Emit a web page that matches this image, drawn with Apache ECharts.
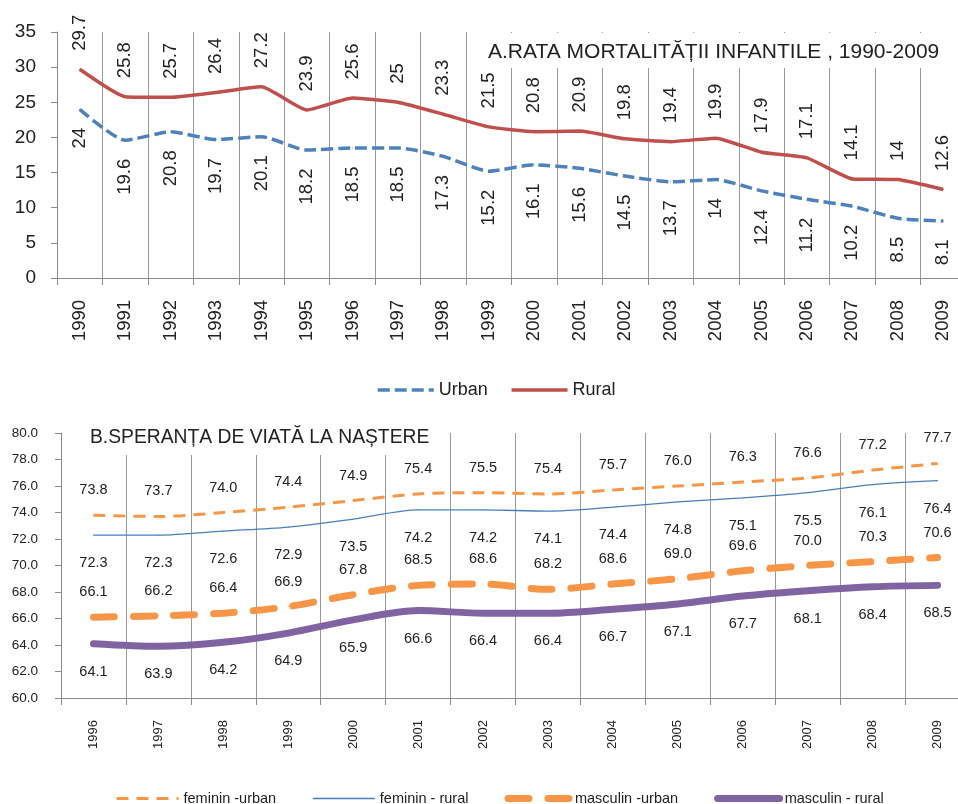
<!DOCTYPE html>
<html>
<head>
<meta charset="utf-8" />
<title>Mortalitate infantila si speranta de viata</title>
<style>
  html, body { margin: 0; padding: 0; background: #fff; }
  #chartBox { width: 958px; height: 804px; }
</style>
</head>
<body>
<div id="chartBox"></div>
<script src="https://cdn.jsdelivr.net/npm/echarts@6/dist/echarts.min.js"></script>
<script>
// A. rata mortalitatii infantile
var years1 = ['1990','1991','1992','1993','1994','1995','1996','1997','1998','1999',
              '2000','2001','2002','2003','2004','2005','2006','2007','2008','2009'];
var urbanMort = [24, 19.6, 20.8, 19.7, 20.1, 18.2, 18.5, 18.5, 17.3, 15.2,
                 16.1, 15.6, 14.5, 13.7, 14, 12.4, 11.2, 10.2, 8.5, 8.1];
var ruralMort = [29.7, 25.8, 25.7, 26.4, 27.2, 23.9, 25.6, 25, 23.3, 21.5,
                 20.8, 20.9, 19.8, 19.4, 19.9, 17.9, 17.1, 14.1, 14, 12.6];

// B. speranta de viata la nastere
var years2 = ['1996','1997','1998','1999','2000','2001','2002',
              '2003','2004','2005','2006','2007','2008','2009'];
var femUrban  = [73.8, 73.7, 74.0, 74.4, 74.9, 75.4, 75.5, 75.4, 75.7, 76.0, 76.3, 76.6, 77.2, 77.7];
var femRural  = [72.3, 72.3, 72.6, 72.9, 73.5, 74.2, 74.2, 74.1, 74.4, 74.8, 75.1, 75.5, 76.1, 76.4];
var mascUrban = [66.1, 66.2, 66.4, 66.9, 67.8, 68.5, 68.6, 68.2, 68.6, 69.0, 69.6, 70.0, 70.3, 70.6];
var mascRural = [64.1, 63.9, 64.2, 64.9, 65.9, 66.6, 66.4, 66.4, 66.7, 67.1, 67.7, 68.1, 68.4, 68.5];

var _font = '"Liberation Sans", Arial, sans-serif';
var _txt = '#222';
var _gridLine = '#9a9a9a';

function oneDecimal(p) { return p.value.toFixed(1); }

// eticheta verticala deasupra / dedesubt
function vLabel(above) {
  return {
    show: true,
    position: above ? 'top' : 'bottom',
    distance: 18,
    rotate: 90,
    align: above ? 'left' : 'right',
    verticalAlign: 'middle',
    fontFamily: _font,
    fontSize: 18.5,
    color: _txt
  };
}

function hLabel(above) {
  return {
    show: true,
    position: above ? 'top' : 'bottom',
    distance: above ? 17 : 20,
    fontFamily: _font,
    fontSize: 14.5,
    color: _txt,
    formatter: oneDecimal
  };
}

function catAxis(idx, data, fontSize, margin) {
  return {
    type: 'category',
    gridIndex: idx,
    data: data,
    boundaryGap: true,
    axisLine: { show: true, lineStyle: { color: '#8a8a8a', width: 1 } },
    axisTick: { show: true, length: 7, interval: 0, lineStyle: { color: '#8a8a8a' } },
    splitLine: { show: true, interval: 0, lineStyle: { color: _gridLine, width: 1 } },
    axisLabel: {
      interval: 0, rotate: 90, margin: margin,
      fontFamily: _font, fontSize: fontSize, color: _txt
    }
  };
}

var myChart = echarts.init(document.getElementById('chartBox'));
var option = {
  animation: false,
  backgroundColor: '#fff',
  title: [{
    text: 'A.RATA MORTALITĂȚII INFANTILE , 1990-2009',
    left: 482, top: 33,
    padding: [7, 6, 4, 6],
    backgroundColor: '#fff',
    textStyle: { fontFamily: _font, fontSize: 21, fontWeight: 'normal', color: _txt, lineHeight: 24 }
  }, {
    text: 'B.SPERANȚA DE VIATĂ LA NAȘTERE',
    left: 84, top: 425,
    padding: [2, 6, 6, 6],
    backgroundColor: '#fff',
    textStyle: { fontFamily: _font, fontSize: 19.3, fontWeight: 'normal', color: _txt, lineHeight: 22 }
  }],
  legend: [{
    left: 371, top: 376,
    data: [
      { name: 'Urban', lineStyle: { width: 3.5 } },
      { name: 'Rural', lineStyle: { width: 3.5 } }
    ],
    itemWidth: 56, itemHeight: 16, itemGap: 22,
    itemStyle: { opacity: 0 },
    textStyle: { fontFamily: _font, fontSize: 18, color: _txt }
  }, {
    left: 110, top: 786,
    data: [
      { name: 'feminin -urban', lineStyle: { width: 3 } },
      { name: 'feminin - rural', lineStyle: { width: 1.3 } },
      { name: 'masculin -urban', lineStyle: { width: 7 } },
      { name: 'masculin - rural', lineStyle: { width: 7 } }
    ],
    itemWidth: 62, itemHeight: 16, itemGap: 36,
    itemStyle: { opacity: 0 },
    textStyle: { fontFamily: _font, fontSize: 14.5, color: _txt }
  }],
  grid: [
    { left: 57, top: 32, width: 909, height: 246, containLabel: false, outerBoundsMode: 'none' },
    { left: 61, top: 433, width: 909, height: 265, containLabel: false, outerBoundsMode: 'none' }
  ],
  xAxis: [
    catAxis(0, years1, 18.5, 22),
    catAxis(1, years2, 13, 22)
  ],
  yAxis: [{
    type: 'value', gridIndex: 0,
    min: 0, max: 35, interval: 5,
    axisLine: { show: true, lineStyle: { color: '#8a8a8a' } },
    axisTick: { show: true, length: 6, lineStyle: { color: '#8a8a8a' } },
    splitLine: { show: false },
    axisLabel: { margin: 21, fontFamily: _font, fontSize: 19, color: _txt }
  }, {
    type: 'value', gridIndex: 1,
    min: 60, max: 80, interval: 2,
    axisLine: { show: true, lineStyle: { color: '#8a8a8a' } },
    axisTick: { show: true, length: 6, lineStyle: { color: '#8a8a8a' } },
    splitLine: { show: false },
    axisLabel: {
      margin: 23, fontFamily: _font, fontSize: 13.5, color: _txt,
      formatter: function (v) { return v.toFixed(1); }
    }
  }],
  series: [{
    name: 'Urban', type: 'line', xAxisIndex: 0, yAxisIndex: 0,
    data: urbanMort, smooth: 0.2,
    symbol: 'circle', symbolSize: 1,
    itemStyle: { color: '#4F81BD' },
    lineStyle: { color: '#4F81BD', width: 3.5, type: [12, 5] },
    label: vLabel(false)
  }, {
    name: 'Rural', type: 'line', xAxisIndex: 0, yAxisIndex: 0,
    data: ruralMort, smooth: 0.15,
    symbol: 'circle', symbolSize: 1,
    itemStyle: { color: '#C0504D' },
    lineStyle: { color: '#C0504D', width: 3.5 },
    label: vLabel(true)
  }, {
    name: 'feminin -urban', type: 'line', xAxisIndex: 1, yAxisIndex: 1,
    data: femUrban, smooth: 0.3,
    symbol: 'circle', symbolSize: 1,
    itemStyle: { color: '#F79646' },
    lineStyle: { color: '#F79646', width: 3, type: [12, 8] },
    label: hLabel(true)
  }, {
    name: 'feminin - rural', type: 'line', xAxisIndex: 1, yAxisIndex: 1,
    data: femRural, smooth: 0.3,
    symbol: 'circle', symbolSize: 1,
    itemStyle: { color: '#4A7EBB' },
    lineStyle: { color: '#4A7EBB', width: 1.3 },
    label: hLabel(false)
  }, {
    name: 'masculin -urban', type: 'line', xAxisIndex: 1, yAxisIndex: 1,
    data: mascUrban, smooth: 0.3,
    symbol: 'circle', symbolSize: 1,
    itemStyle: { color: '#F79646' },
    lineStyle: { color: '#F79646', width: 7, type: [21, 19], cap: 'round' },
    label: hLabel(true)
  }, {
    name: 'masculin - rural', type: 'line', xAxisIndex: 1, yAxisIndex: 1,
    data: mascRural, smooth: 0.3,
    symbol: 'circle', symbolSize: 1,
    itemStyle: { color: '#8064A2' },
    lineStyle: { color: '#8064A2', width: 7, cap: 'round' },
    label: hLabel(false)
  }]
};
myChart.setOption(option);
</script>
</body>
</html>
